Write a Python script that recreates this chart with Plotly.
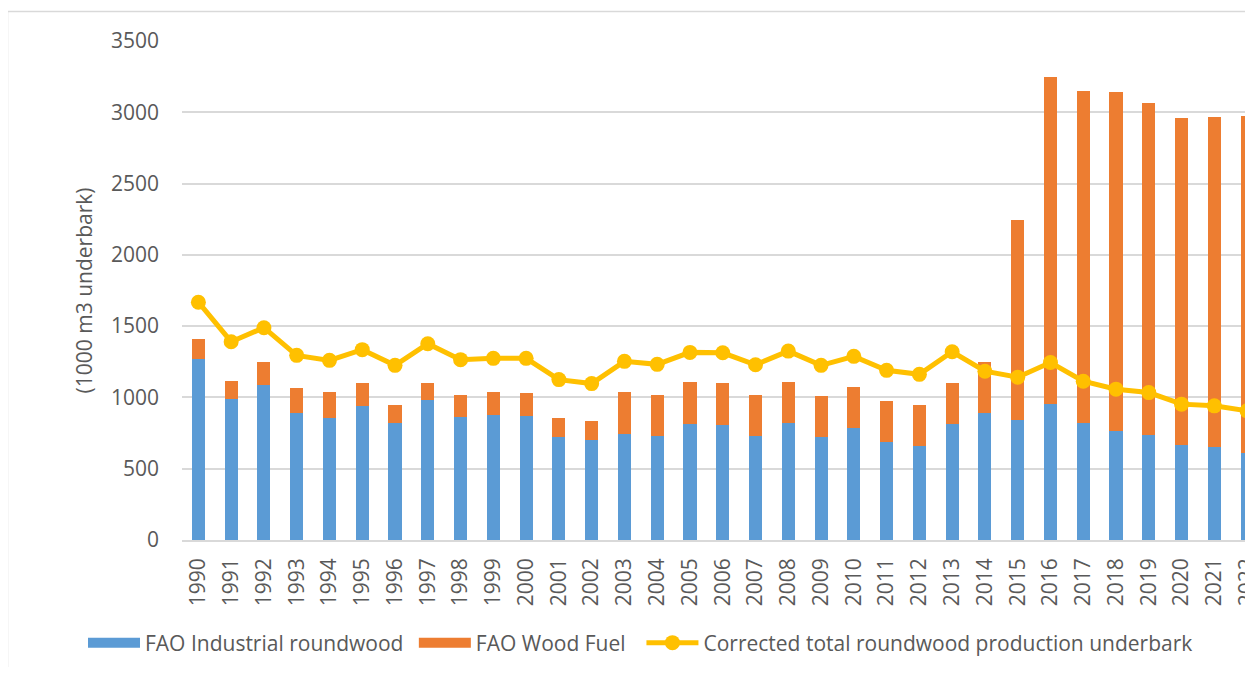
import plotly.graph_objects as go

years = [str(y) for y in range(1990, 2023)]
industrial = [1267, 992, 1085, 894, 859, 938, 824, 980, 866, 875, 873, 723, 700,
              747, 728, 814, 810, 726, 824, 721, 784, 686, 658, 815, 890,
              845, 953, 820, 768, 740, 663, 649, 612]
wood_fuel = [145, 126, 161, 172, 179, 161, 121, 121, 149, 163, 158, 136, 133,
             291, 289, 292, 289, 289, 287, 289, 289, 289, 289, 289, 357,
             1397, 2297, 2328, 2373, 2324, 2300, 2321, 2360]
corrected = [1668, 1391, 1489, 1295, 1260, 1335, 1225, 1377, 1265, 1274, 1274, 1125, 1097,
             1253, 1232, 1316, 1313, 1229, 1325, 1225, 1288, 1190, 1162, 1320, 1184,
             1142, 1245, 1114, 1058, 1034, 953, 941, 906]

names = ["FAO Industrial roundwood", "FAO Wood Fuel",
         "Corrected total roundwood production underbark"]
colors = ["#5B9BD5", "#ED7D31", "#FFC000"]

FONT = "Open Sans"
TXT = "#595959"
FS = 21
NBSP = "\u00a0"
OFF = 8                      # page body margin of the browser
VW, VH = 1253, 675           # viewport
W, H = VW - OFF, VH - 2 * OFF
# plot area in screen pixels
PX0, PX1, PY0, PY1 = 182, 1253, 41, 540
ML, MR, MT, MB = PX0 - OFF, (OFF + W) - PX1, PY0 - OFF, (OFF + H) - PY1
PW, PH = PX1 - PX0, PY1 - PY0


def px_x(p):
    return (p - PX0) / PW


def px_y(p):
    return (PY1 - p) / PH


fig = go.Figure()
fig.add_trace(go.Bar(x=years, y=industrial, name=names[0], legendgroup="ind",
                     showlegend=False, marker=dict(color=colors[0], line=dict(width=0))))
fig.add_trace(go.Bar(x=years, y=wood_fuel, name=names[1], legendgroup="fuel",
                     showlegend=False, marker=dict(color=colors[1], line=dict(width=0))))
fig.add_trace(go.Scatter(x=years, y=corrected, mode="lines+markers",
                         name=names[2], legendgroup="corr", legendrank=3,
                         line=dict(color=colors[2], width=5),
                         marker=dict(color=colors[2], size=15)))
# legend swatches (wide rectangles like the original)
fig.add_trace(go.Scatter(x=[None], y=[None], mode="lines", name=names[0] + NBSP,
                         legendgroup="ind", legendrank=1,
                         line=dict(color=colors[0], width=13)))
fig.add_trace(go.Scatter(x=[None], y=[None], mode="lines", name=names[1] + NBSP * 2,
                         legendgroup="fuel", legendrank=2,
                         line=dict(color=colors[1], width=13)))

fig.update_layout(
    width=W, height=H, autosize=False,
    margin=dict(l=ML, r=MR, t=MT, b=MB, pad=0, autoexpand=False),
    barmode="stack", bargap=0.6,
    plot_bgcolor="white", paper_bgcolor="white",
    font=dict(family=FONT, size=FS, color=TXT),
    showlegend=True,
    legend=dict(orientation="h", x=px_x(83), xanchor="left",
                y=px_y(643), yanchor="middle",
                font=dict(family=FONT, size=FS, color=TXT),
                traceorder="normal", itemwidth=52, bgcolor="rgba(0,0,0,0)"),
    shapes=[dict(type="rect", xref="paper", yref="paper",
                 x0=px_x(7.5), x1=px_x(1400), y0=px_y(11.5), y1=px_y(800),
                 line=dict(color="#d9d9d9", width=1.5), fillcolor="rgba(0,0,0,0)",
                 layer="below")],
)
fig.update_xaxes(type="category", range=[-0.5, 32.18], showgrid=False,
                 showline=True, linecolor="#d9d9d9", linewidth=1.5,
                 tickangle=-90, ticks="", ticklabelstandoff=8, automargin=False,
                 tickfont=dict(family=FONT, size=FS, color=TXT), zeroline=False)
fig.update_yaxes(range=[0, 3500], dtick=500, showgrid=True, gridcolor="#d9d9d9",
                 gridwidth=1.5, zeroline=False, showline=False, ticks="",
                 ticklabelstandoff=22, automargin=False,
                 tickfont=dict(family=FONT, size=FS, color=TXT),
                 title=dict(text="(1000 m3 underbark)", standoff=12,
                            font=dict(family=FONT, size=FS, color=TXT)))

fig.write_html("out.html")
